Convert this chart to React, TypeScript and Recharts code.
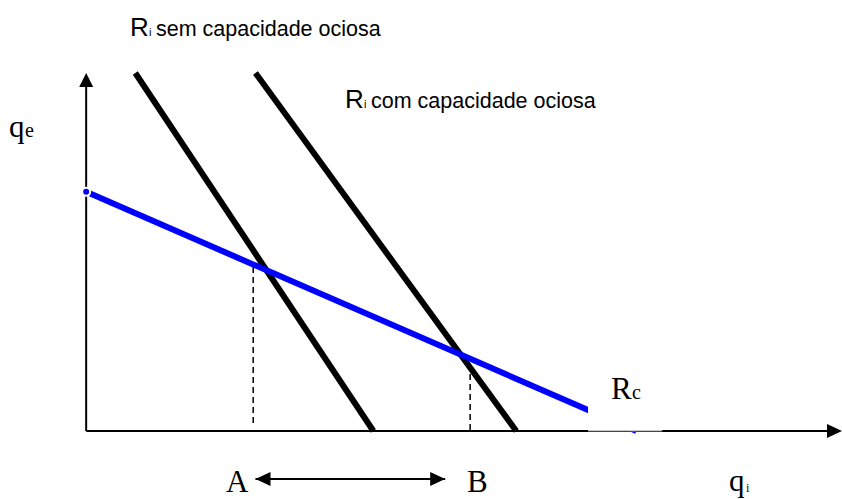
import {
  ComposedChart, Line, Scatter, XAxis, YAxis, ReferenceLine,
} from 'recharts'

// chart units: origin at the axes corner, axis tops at 100
const X_DOMAIN = [-11.4, 100]
const Y_DOMAIN = [-19, 120.4]

// reaction curves
const RI_SEM = [{ x: 6.5, y: 100 }, { x: 38.0, y: 0 }]
const RI_COM = [{ x: 22.4, y: 100 }, { x: 56.9, y: 0 }]
const RC = [{ x: 0, y: 66.8 }, { x: 72.8, y: 0 }]

// dashed drop lines at A and B
const DROP_A = [{ x: 22.1, y: 2.2 }, { x: 22.1, y: 47.2 }]
const DROP_B = [{ x: 50.8, y: 0.3 }, { x: 50.8, y: 17.9 }]

// double arrow between A and B
const AB_ARROW = [{ x: 22.4, y: -13.4 }, { x: 47.5, y: -13.4 }]

// white label box behind "Rc" that hides the end of the Rc line
const RC_BOX = [{ x: 66.4, y: 8.5 }, { x: 76.2, y: 8.5 }]
const RC_BOX_EDGE = [{ x: 66.4, y: 0 }, { x: 76.2, y: 0 }]

const SANS = '"Liberation Sans", Arial, sans-serif'
const SERIF = '"Liberation Serif", "Times New Roman", serif'

const upHead = (p: any) => (
  <polygon points={`${p.cx},${p.cy} ${p.cx - 7},${p.cy + 14} ${p.cx + 7},${p.cy + 14}`} fill="#000" />
)
const rightHead = (p: any) => (
  <polygon points={`${p.cx},${p.cy} ${p.cx - 15},${p.cy - 7} ${p.cx - 15},${p.cy + 7}`} fill="#000" />
)
const leftHead = (p: any) => (
  <polygon points={`${p.cx},${p.cy} ${p.cx + 15},${p.cy - 7} ${p.cx + 15},${p.cy + 7}`} fill="#000" />
)

export default function App() {
  return (
    <div style={{ position: 'absolute', left: 0, top: 0, width: 842, height: 499, background: '#fff' }}>
      <ComposedChart width={842} height={499} margin={{ top: 0, right: 0, bottom: 0, left: 0 }}>
        <XAxis type="number" dataKey="x" domain={X_DOMAIN} hide allowDataOverflow />
        <YAxis type="number" dataKey="y" domain={Y_DOMAIN} hide allowDataOverflow />

        <ReferenceLine segment={[{ x: 0, y: 0 }, { x: 0, y: 98 }]} stroke="#000" strokeWidth={2} />
        <ReferenceLine segment={[{ x: 0, y: 0 }, { x: 99.5, y: 0 }]} stroke="#000" strokeWidth={2} />

        <ReferenceLine segment={DROP_A} stroke="#000" strokeWidth={1.5} strokeDasharray="6 4" />
        <ReferenceLine segment={DROP_B} stroke="#000" strokeWidth={1.5} strokeDasharray="6 4" />

        <Line data={RI_SEM} dataKey="y" type="linear" stroke="#000" strokeWidth={6} dot={false} isAnimationActive={false} />
        <Line data={RI_COM} dataKey="y" type="linear" stroke="#000" strokeWidth={6} dot={false} isAnimationActive={false} />
        <Line data={RC} dataKey="y" type="linear" stroke="#0000ff" strokeWidth={6} dot={false} isAnimationActive={false} />

        <Line data={RC_BOX} dataKey="y" type="linear" stroke="#fff" strokeWidth={61} dot={false} isAnimationActive={false} />
        <Line data={RC_BOX_EDGE} dataKey="y" type="linear" stroke="#909090" strokeWidth={1} dot={false} isAnimationActive={false} />

        <ReferenceLine segment={AB_ARROW} stroke="#000" strokeWidth={2} />

        <Scatter data={[{ x: 0, y: 100 }]} shape={upHead} isAnimationActive={false} />
        <Scatter data={[{ x: 100, y: 0 }]} shape={rightHead} isAnimationActive={false} />
        <Scatter data={[AB_ARROW[0]]} shape={leftHead} isAnimationActive={false} />
        <Scatter data={[AB_ARROW[1]]} shape={rightHead} isAnimationActive={false} />
      </ComposedChart>

      <svg width={842} height={499} style={{ position: 'absolute', left: 0, top: 0, pointerEvents: 'none' }}>
        <g fontFamily={SANS} fill="#000">
          <text x={130} y={36} fontSize={26}>R</text>
          <text x={149} y={36} fontSize={11}>i</text>
          <text x={156} y={36} fontSize={21.5}>sem capacidade ociosa</text>
          <text x={345} y={108} fontSize={26}>R</text>
          <text x={364} y={108} fontSize={11}>i</text>
          <text x={371} y={108} fontSize={21.5}>com capacidade ociosa</text>
        </g>
        <g fontFamily={SERIF} fill="#000">
          <text x={9} y={137} fontSize={31}>q</text>
          <text x={25} y={137} fontSize={20}>e</text>
          <text x={611} y={399} fontSize={31}>R</text>
          <text x={632} y={399} fontSize={20}>c</text>
          <text x={226} y={492} fontSize={31}>A</text>
          <text x={467} y={492} fontSize={31}>B</text>
          <text x={729} y={491} fontSize={31}>q</text>
          <text x={746} y={492} fontSize={12}>i</text>
        </g>
      </svg>
    </div>
  )
}
